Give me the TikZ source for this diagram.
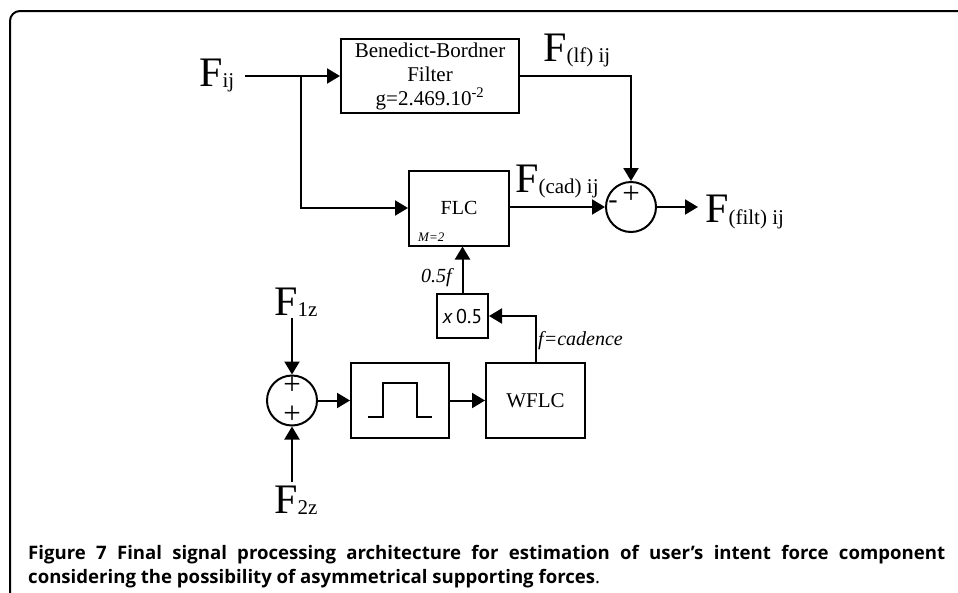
\documentclass[tikz,border=0pt]{standalone}
\usepackage{fontspec}
\setmainfont{Liberation Serif}
\newfontfamily\capfont{Open Sans}
\newfontfamily\multfont{PT Sans}
\usetikzlibrary{arrows.meta}

% big force symbol with its subscript
\newcommand{\forcelbl}[2][-1pt]{{\fontsize{42}{42}\selectfont F}\raisebox{#1}{\fontsize{21}{21}\selectfont #2}}

\tikzset{
  block/.style={draw,line width=2pt,inner sep=0pt},
  sumnode/.style={draw,circle,line width=2pt,minimum size=50pt,inner sep=0pt},
  sig/.style={line width=2pt,-{Triangle[length=13pt,width=15pt]}},
  lbl/.style={inner sep=0pt},
}

\begin{document}
\begin{tikzpicture}[x=1pt,y=-1pt]
\useasboundingbox (0,0) rectangle (958,592);
\draw[line width=2pt,rounded corners=10pt] (962,11) -- (10,11) -- (10,596);

% upper path
\node[lbl,anchor=base west] (fij) at (199,86) {\forcelbl{ij}};
\node[block,minimum width=178pt,minimum height=74pt,align=center,
      font=\fontsize{21}{24}\selectfont] (bb) at (430,76)
      {Benedict-Bordner\\Filter\\g=2.469.10\textsuperscript{-2}};
\node[lbl,anchor=base west] (flf) at (543,61) {\forcelbl{(lf) ij}};
\node[block,minimum width=100pt,minimum height=75pt,
      font=\fontsize{20}{20}\selectfont] (flc) at (459,208) {FLC};
\node[lbl,anchor=base west,font=\fontsize{13}{13}\selectfont\itshape] (mval) at (418,241) {M=2};
\node[lbl,anchor=base west] (fcad) at (515,192) {\forcelbl{(cad) ij}};
\node[sumnode] (sum1) at (631,207) {};
\node[lbl,font=\fontsize{31}{31}\selectfont] (plusa) at (631,195) {+};
\node[lbl,font=\fontsize{28}{28}\selectfont] (minusa) at (613,205) {-};
\node[lbl,anchor=base west] (ffilt) at (705,222) {\forcelbl[-2pt]{(filt) ij}};

% cadence path
\node[block,minimum width=51pt,minimum height=44pt,
      font=\multfont\fontsize{20}{20}\selectfont] (mult) at (462.5,316) {\textit{x}\,0.5};
\node[lbl,anchor=base east,font=\fontsize{20}{20}\selectfont\itshape] (half) at (452,282) {0.5f};
\node[block,minimum width=99pt,minimum height=75pt,
      font=\fontsize{21}{21}\selectfont] (wflc) at (535.5,400.5) {WFLC};
\node[lbl,anchor=base west,font=\fontsize{20}{20}\selectfont\itshape] (cad) at (538,345) {f=cadence};
\node[block,minimum width=98pt,minimum height=75pt] (pulse) at (400,400.5) {};
\draw[line width=2pt] ([shift={(-32,16.5)}]pulse.center) -- ++(15,0) -- ++(0,-34)
  -- ++(34,0) -- ++(0,34) -- ++(15,0);
\node[sumnode] (sum2) at (292,400.5) {};
\node[lbl,font=\fontsize{31}{31}\selectfont] (plusb) at (292,386) {+};
\node[lbl,font=\fontsize{31}{31}\selectfont] (plusc) at (292,415) {+};
\node[lbl,anchor=base west] (f1z) at (274,315) {\forcelbl{1z}};
\node[lbl,anchor=base west] (f2z) at (274,513) {\forcelbl{2z}};

\coordinate (in) at (245,76);
\coordinate (br) at (301,76);
\coordinate (out) at (698,207);

\draw[sig] (in) -- (bb.west);
\draw[sig] (br) |- (flc.west);
\draw[sig] (bb.east) -| (sum1.north);
\draw[sig] (flc.east |- sum1.west) -- (sum1.west);
\draw[sig] (sum1.east) -- (out);
\draw[sig] (mult.north) -- (mult.north |- flc.south);
\draw[sig] (wflc.north) |- (mult.east);
\draw[sig] (pulse.east) -- (wflc.west);
\draw[sig] (sum2.east) -- (pulse.west);
\draw[sig] (sum2 |- f1z.south) ++(0,2) -- (sum2.north);
\draw[sig] (sum2 |- f2z.north) ++(0,-3) -- (sum2.south);

% caption
\node[lbl,anchor=north west,text width=917pt,align=justify,
      font=\capfont\bfseries\fontsize{18.6}{24}\selectfont] (cap) at (28,545)
  {Figure 7 Final signal processing architecture for estimation of user’s intent force component\linebreak
   considering the possibility of asymmetrical supporting forces{\mdseries .}};
\end{tikzpicture}
\end{document}
